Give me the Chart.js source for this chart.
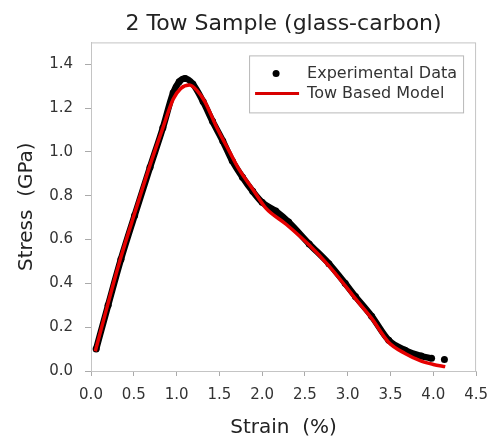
<!DOCTYPE html>
<html>
<head>
<meta charset="utf-8">
<script src="https://cdn.jsdelivr.net/npm/chart.js@4/dist/chart.umd.min.js"></script>
<style>
    body { margin: 0; background: #fff; }
    #wrap { width: 498px; height: 440px; }
</style>
</head>
<body>
<div id="wrap"><canvas id="Chart1" width="498" height="440"></canvas></div>
<script>
// experimental points (strain %, stress GPa)
var expStrain = [0.06, 0.20, 0.35, 0.51, 0.69, 0.84, 0.96, 1.03, 1.10, 1.19, 1.31, 1.42, 1.54, 1.65, 1.77, 1.89, 2.00, 2.16, 2.31, 2.55, 2.78, 2.97, 3.09, 3.28, 3.48, 3.67, 3.86, 3.98, null, 4.13];
var expStress = [0.10, 0.30, 0.51, 0.71, 0.93, 1.11, 1.27, 1.32, 1.335, 1.31, 1.23, 1.14, 1.05, 0.96, 0.885, 0.82, 0.77, 0.73, 0.68, 0.58, 0.49, 0.40, 0.34, 0.25, 0.14, 0.095, 0.068, 0.058, null, 0.052];

// tow based model curve
var modelStrain = [0.05, 0.20, 0.35, 0.51, 0.69, 0.84, 0.96, 1.05, 1.15, 1.24, 1.33, 1.46, 1.62, 1.73, 1.89, 2.04, 2.28, 2.55, 2.78, 2.97, 3.09, 3.28, 3.48, 3.67, 3.86, 4.00, 4.14];
var modelStress = [0.09, 0.31, 0.52, 0.72, 0.94, 1.11, 1.24, 1.29, 1.305, 1.28, 1.23, 1.12, 1.00, 0.92, 0.83, 0.745, 0.67, 0.575, 0.48, 0.39, 0.33, 0.24, 0.13, 0.08, 0.045, 0.03, 0.02];

var xTicks = [0, 0.5, 1.0, 1.5, 2.0, 2.5, 3.0, 3.5, 4.0, 4.5];
var yTicks = [0, 0.2, 0.4, 0.6, 0.8, 1.0, 1.2, 1.4];

var seriesNames = ['Experimental Data', 'Tow Based Model'];

function toPoints(xs, ys) {
    var pts = [];
    for (var i = 0; i < xs.length; i++) {
        // a null pair breaks the line before the last lone point
        if (xs[i] === null) { pts.push({x: (xs[i - 1] + xs[i + 1]) / 2, y: null}); continue; }
        pts.push({x: xs[i], y: ys[i]});
    }
    return pts;
}

var FONT = 'DejaVu Sans';

// frame round the plot and the legend box inside it
var framePlugin = {
    id: 'frame',
    beforeDatasetsDraw: function(chart) {
        var a = chart.chartArea, c = chart.ctx;
        c.save();
        c.strokeStyle = '#c4c4c4';
        c.lineWidth = 1;
        c.strokeRect(a.left + 0.5, a.top + 0.5, a.right - a.left - 1, a.bottom - a.top);
        c.restore();
    },
    afterDatasetsDraw: function(chart) {
        var a = chart.chartArea, c = chart.ctx;
        var bx = a.right - 227, by = a.top + 13, bw = 214, bh = 57;
        c.save();
        c.fillStyle = '#fff';
        c.fillRect(bx, by, bw, bh);
        c.strokeStyle = '#b8b8b8';
        c.lineWidth = 1;
        c.strokeRect(bx + 0.5, by + 0.5, bw, bh);
        // black dot
        c.fillStyle = '#000';
        c.beginPath();
        c.arc(bx + 27, by + 18, 3.5, 0, Math.PI * 2);
        c.fill();
        // red line
        c.strokeStyle = '#d80000';
        c.lineWidth = 3;
        c.beginPath();
        c.moveTo(bx + 6, by + 38);
        c.lineTo(bx + 50, by + 38);
        c.stroke();
        c.fillStyle = '#333';
        c.font = '16px "' + FONT + '"';
        c.textBaseline = 'middle';
        c.fillText(seriesNames[0], bx + 58, by + 18);
        c.fillText(seriesNames[1], bx + 58, by + 38);
        c.restore();
    }
};

var ctx1 = document.getElementById('Chart1').getContext('2d');
var chart1 = new Chart(ctx1, {
    type: 'line',
    data: {
        datasets: [{
            label: seriesNames[0],
            data: toPoints(expStrain, expStress),
            borderColor: '#000',
            backgroundColor: '#000',
            borderWidth: 6.5,
            pointRadius: 3.5,
            pointBorderWidth: 0,
            cubicInterpolationMode: 'monotone',
            spanGaps: false,
            order: 2
        }, {
            label: seriesNames[1],
            data: toPoints(modelStrain, modelStress),
            borderColor: '#e60000',
            borderWidth: 3.5,
            pointRadius: 0,
            cubicInterpolationMode: 'monotone',
            order: 1
        }]
    },
    options: {
        responsive: false,
        animation: false,
        layout: { padding: { left: 0, right: 13, top: 0, bottom: 0 } },
        plugins: {
            legend: { display: false },
            tooltip: { enabled: false },
            title: {
                display: true,
                fullSize: false,
                align: 'center',
                text: '2 Tow Sample (glass-carbon)',
                color: '#222',
                font: { family: FONT, size: 22, weight: 'normal' },
                padding: { top: 11, bottom: 5 }
            }
        },
        scales: {
            x: {
                type: 'linear',
                min: 0,
                max: 4.5,
                afterBuildTicks: function(s) { s.ticks = xTicks.map(function(v) { return {value: v}; }); },
                afterFit: function(s) { s.height = 69; },
                ticks: {
                    color: '#333',
                    padding: 10,
                    font: { family: FONT, size: 15 },
                    callback: function(v) { return v.toFixed(1); }
                },
                grid: { drawOnChartArea: false, drawTicks: true, tickLength: 5, color: '#aaa' },
                border: { display: true, color: '#c4c4c4' },
                title: {
                    display: true,
                    text: 'Strain  (%)',
                    color: '#222',
                    font: { family: FONT, size: 20 },
                    padding: { top: 0, bottom: 0 }
                }
            },
            y: {
                type: 'linear',
                min: 0,
                max: 1.5,
                afterBuildTicks: function(s) { s.ticks = yTicks.map(function(v) { return {value: v}; }); },
                afterFit: function(s) { s.width = 91; },
                ticks: {
                    color: '#333',
                    padding: 12,
                    font: { family: FONT, size: 15 },
                    callback: function(v) { return v.toFixed(1); }
                },
                grid: { drawOnChartArea: false, drawTicks: true, tickLength: 6, color: '#aaa' },
                border: { display: true, color: '#c4c4c4' },
                title: {
                    display: true,
                    text: 'Stress  (GPa)',
                    color: '#222',
                    font: { family: FONT, size: 20 },
                    padding: { top: 15, bottom: 0 }
                }
            }
        }
    },
    plugins: [framePlugin]
});
</script>
</body>
</html>
